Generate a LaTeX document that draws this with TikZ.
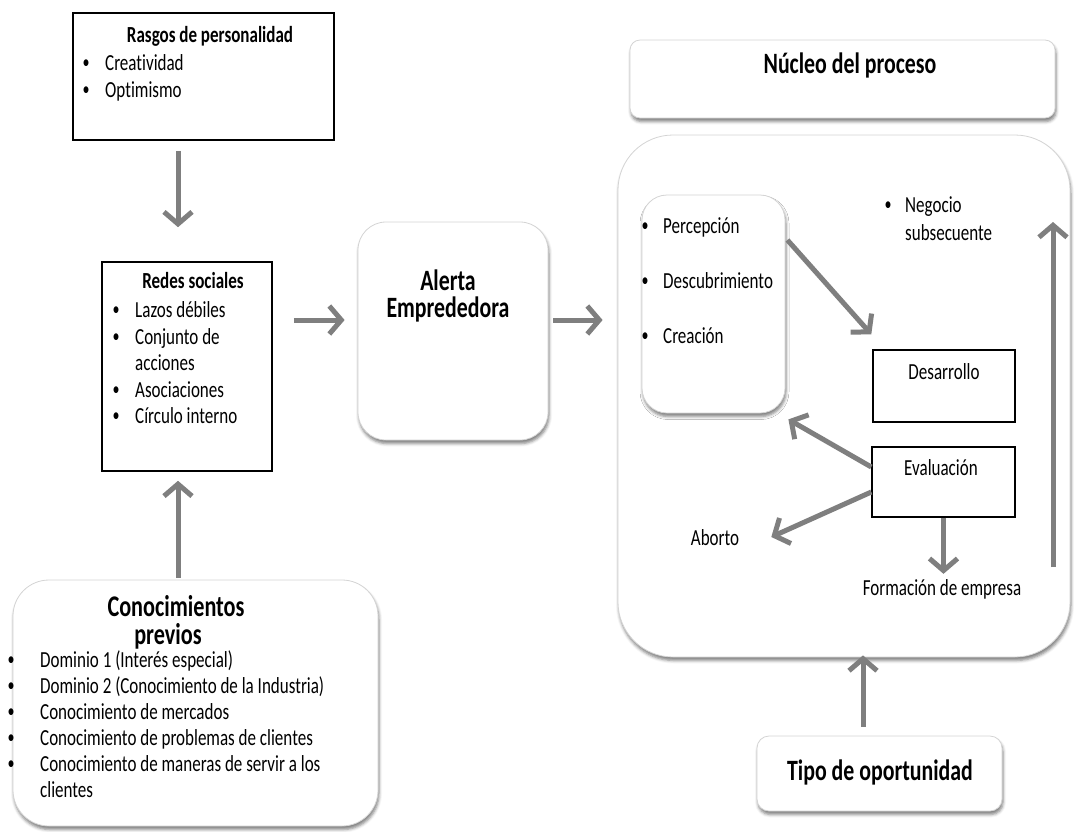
\documentclass[tikz,border=0pt]{standalone}
\usepackage{fontspec}
\setmainfont{Carlito}[FakeStretch=0.74, Ligatures=NoCommon]
\usetikzlibrary{arrows.meta,shadows.blur}
\definecolor{arrgray}{HTML}{7F7F7F}
\definecolor{rimgray}{HTML}{D4D4D4}
% bullet followed by a fixed indent
\newcommand\bulletitem[1]{\makebox[#1][l]{\hspace{0.5pt}\raisebox{1.5pt}{\fontsize{19}{19}\selectfont •}}}
\begin{document}
\begin{tikzpicture}[x=1pt,y=-1pt,
  sqbox/.style={draw=black,line width=1.6pt,fill=white,inner sep=0pt},
  rbox/.style={draw=rimgray,line width=0.8pt,fill=white,inner sep=0pt,
     blur shadow={shadow xshift=1pt,shadow yshift=-3.5pt,shadow blur radius=3pt,shadow opacity=50}},
  body/.style={inner sep=0pt,font=\fontsize{23}{27}\selectfont},
  item/.style={body,anchor=base west},
  ctext/.style={body,anchor=base},
  head/.style={inner sep=0pt,anchor=base,font=\bfseries\fontsize{23}{27}\selectfont},
  bighead/.style={inner sep=0pt,anchor=base,font=\bfseries\fontsize{29.5}{34}\selectfont},
  flow/.style={draw=arrgray,line width=5pt,-{Straight Barb[length=12pt,width=28pt]}},
]
\useasboundingbox (0,0) rectangle (1074,831);

% ---- boxes ----
\node[sqbox, minimum width=261pt, minimum height=127pt] (rasgos) at (203.5,76.5) {};
\node[sqbox, minimum width=170pt, minimum height=209pt] (redes) at (187,366.5) {};
\node[rbox, rounded corners=36pt, minimum width=365pt, minimum height=246pt] (conoc) at (195.5,703) {};
\node[rbox, rounded corners=28pt, minimum width=190pt, minimum height=218pt] (alerta) at (453,331) {};
\node[rbox, rounded corners=10pt, minimum width=425pt, minimum height=78pt] (nucleo) at (842.5,79) {};
\node[rbox, rounded corners=55pt, minimum width=452pt, minimum height=522pt] (proceso) at (844,396) {};
\node[rbox, rounded corners=25pt, minimum width=143pt, minimum height=218pt] (percep) at (713.5,304) {};
\node[sqbox, line width=1.4pt, minimum width=142pt, minimum height=72pt] (desarrollo) at (944,386) {};
\node[sqbox, line width=1.4pt, minimum width=143pt, minimum height=70pt] (evaluacion) at (943.5,482) {};
\node[rbox, rounded corners=12pt, minimum width=245pt, minimum height=75pt] (tipo) at (879.5,773.5) {};

% ---- texts ----
\node[head] (rasgosT) at (210,42) {Rasgos de personalidad};
\node[item] (r1) at (82,70) {\bulletitem{23pt}Creatividad};
\node[item] (r2) at (82,97) {\bulletitem{23pt}Optimismo};

\node[head] (redesT) at (193,288) {Redes sociales};
\node[item] (s1) at (112,317) {\bulletitem{23pt}Lazos débiles};
\node[item] (s2) at (112,344) {\bulletitem{23pt}Conjunto de};
\node[item] (s3) at (135,370) {acciones};
\node[item] (s4) at (112,397) {\bulletitem{23pt}Asociaciones};
\node[item] (s5) at (112,423) {\bulletitem{23pt}Círculo interno};

\node[bighead] (alertaT1) at (448,290) {Alerta};
\node[bighead] (alertaT2) at (448,317) {Emprededora};

\node[bighead, font=\bfseries\fontsize{30}{34}\selectfont] (conocT1) at (176,616) {Conocimientos};
\node[bighead, font=\bfseries\fontsize{30}{34}\selectfont] (conocT2) at (168,644) {previos};
\node[item] (c1) at (7,667) {\bulletitem{33pt}Dominio 1 (Interés especial)};
\node[item] (c2) at (7,693) {\bulletitem{33pt}Dominio 2 (Conocimiento de la Industria)};
\node[item] (c3) at (7,719) {\bulletitem{33pt}Conocimiento de mercados};
\node[item] (c4) at (7,745) {\bulletitem{33pt}Conocimiento de problemas de clientes};
\node[item] (c5) at (7,771) {\bulletitem{33pt}Conocimiento de maneras de servir a los};
\node[item] (c6) at (40,797) {clientes};

\node[bighead] (nucleoT) at (850,73) {Núcleo del proceso};

\node[item] (p1) at (641,233) {\bulletitem{22pt}Percepción};
\node[item] (p2) at (641,288) {\bulletitem{22pt}Descubrimiento};
\node[item] (p3) at (641,343) {\bulletitem{22pt}Creación};

\node[item] (n1) at (884,212) {\bulletitem{21pt}Negocio};
\node[item] (n2) at (905,240) {subsecuente};

\node[ctext] (desT) at (944,379) {Desarrollo};
\node[ctext] (evaT) at (941,475) {Evaluación};
\node[ctext] (aborto) at (715,545) {Aborto};
\node[ctext] (formacion) at (942,595) {Formación de empresa};

\node[bighead] (tipoT) at (880,780) {Tipo de oportunidad};

% ---- connectors ----
\coordinate (negLow) at (1053,567);
\coordinate (negHigh) at (1053,222);

\draw[flow] ([xshift=-25.5pt,yshift=-10pt]rasgos.south) -- ([xshift=-9pt,yshift=34pt]redes.north);
\draw[flow] ([xshift=-17.5pt,yshift=2pt]conoc.north) -- ([xshift=-9pt,yshift=-9pt]redes.south);
\draw[flow] ([xshift=21pt,yshift=46.5pt]redes.east) -- ([xshift=-13pt,yshift=11pt]alerta.west);
\draw[flow] ([xshift=5pt,yshift=11pt]alerta.east) -- ([xshift=-15pt,yshift=76pt]proceso.west);
\draw[flow] ([xshift=2pt,yshift=64pt]percep.east) -- ([xshift=-1pt,yshift=15pt]desarrollo.north west);
\draw[flow] ([yshift=15pt]evaluacion.west) -- ([xshift=3pt,yshift=-6pt]percep.south east);
\draw[flow] ([yshift=-10pt]evaluacion.west) -- ([xshift=32pt,yshift=8pt]aborto.base east);
\draw[flow,shorten >=5pt] (evaluacion.south) -- (evaluacion.south |- formacion.north);
\draw[flow] (negLow) -- (negHigh);
\draw[flow] ([xshift=-16.5pt,yshift=9pt]tipo.north) -- ([xshift=19pt,yshift=2pt]proceso.south);
\end{tikzpicture}
\end{document}
